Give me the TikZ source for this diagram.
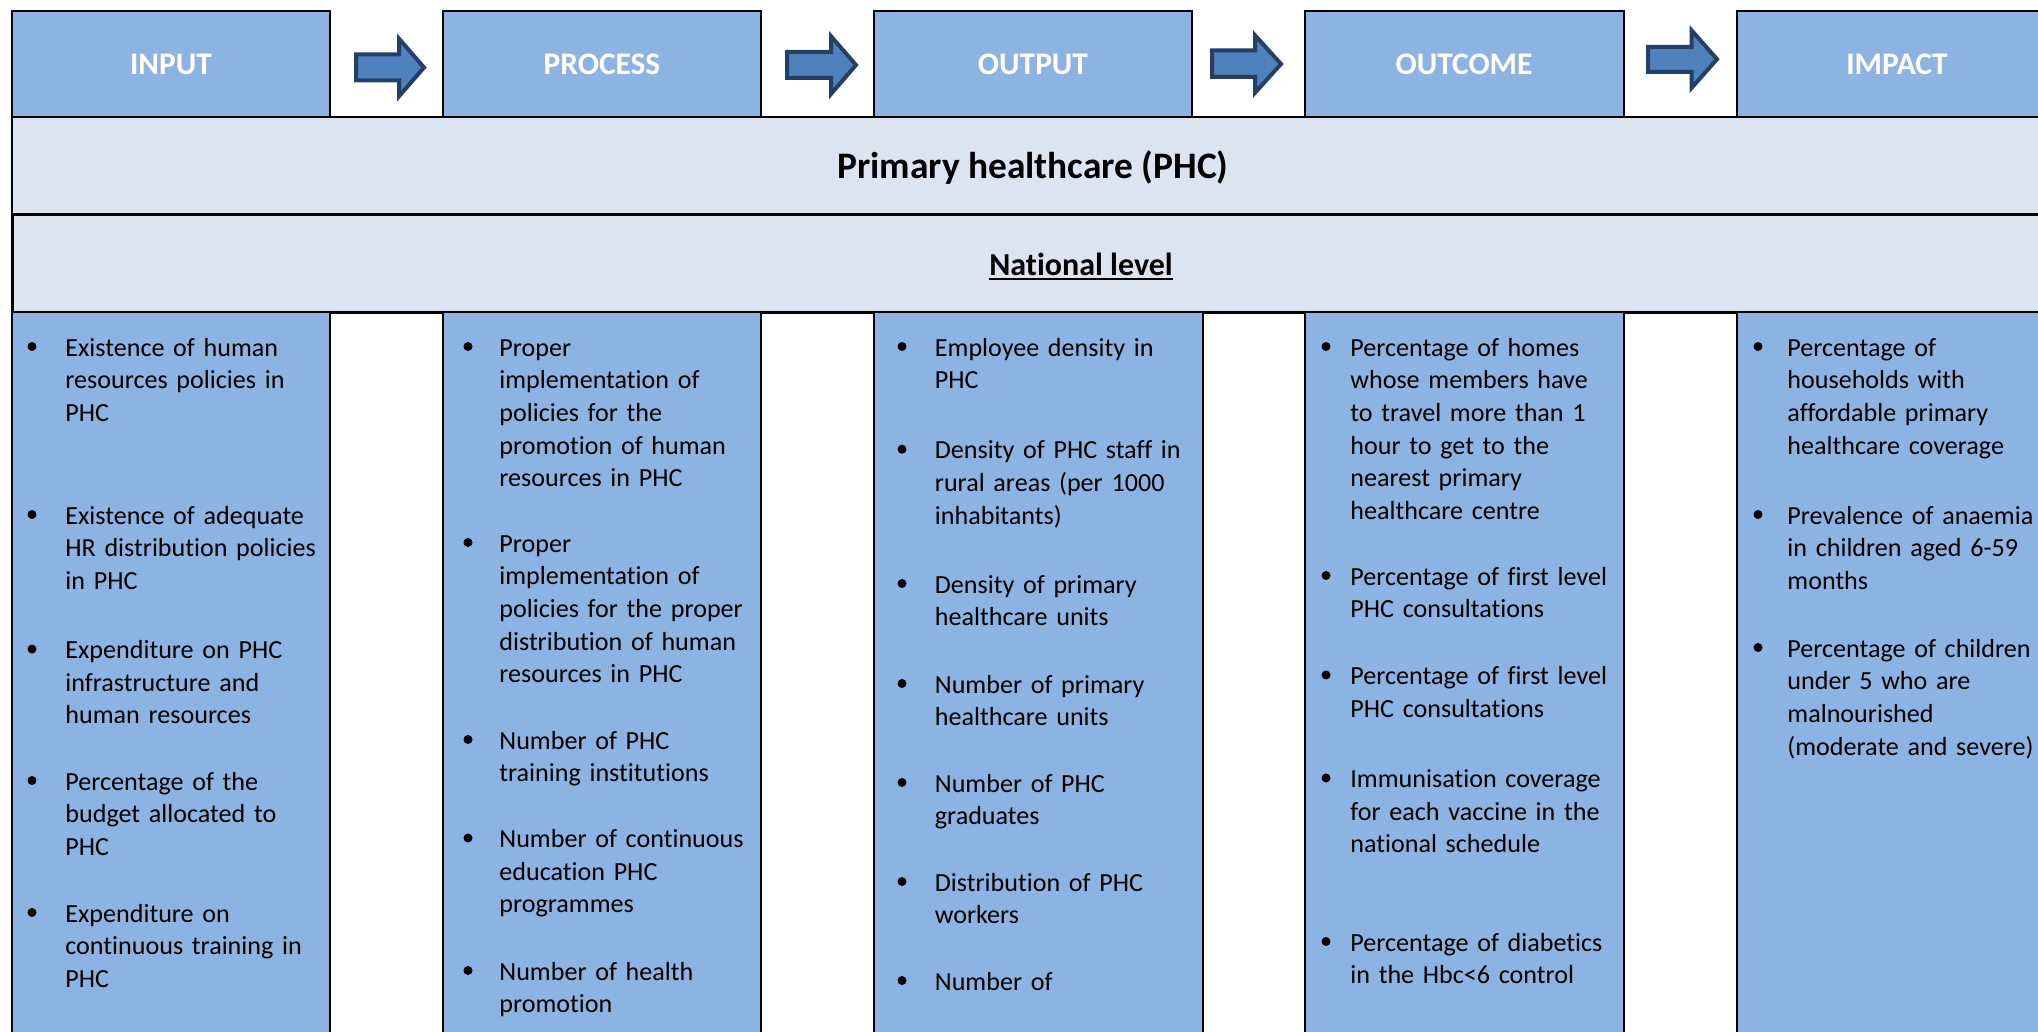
\documentclass[tikz,border=0pt]{standalone}
\usepackage{fontspec}
\setmainfont{Carlito}[Ligatures=NoCommon]
\usepackage{tikz}

\definecolor{colblue}{RGB}{141,179,226}
\definecolor{bandblue}{RGB}{219,229,241}
\definecolor{arrowblue}{RGB}{79,129,189}
\definecolor{arrowline}{RGB}{37,64,100}

\begin{document}
\begin{tikzpicture}[x=0.5pt,y=0.5pt,yscale=-1,xscale=1,
  colbox/.style={draw=black,line width=1pt,fill=colblue},
  band/.style={draw=black,line width=1pt,fill=bandblue},
  blockarrow/.style={draw=arrowline,line width=2pt,fill=arrowblue,line join=miter},
  headtext/.style={text=white,font=\fontsize{15.7}{19}\selectfont\bfseries,inner sep=0pt,anchor=base},
  itemtext/.style={font=\fontsize{13.05}{16.35}\selectfont,inner sep=0pt,anchor=base west,text width=170pt,align=left}]
%set diagram size 2038 x 1032
\useasboundingbox (0,0) rectangle (2038,1032);
\clip (0,0) rectangle (2038,1032);

%Shape: Rectangle [header boxes]
\draw [colbox] (12,10.7) rectangle (330,117) ;
\draw [colbox] (443,10.7) rectangle (761,117) ;
\draw [colbox] (874,10.7) rectangle (1192,117) ;
\draw [colbox] (1305,10.7) rectangle (1624,117) ;
\draw [colbox] (1737,10.7) rectangle (2060,117) ;
%Shape: Rectangle [title bands]
\draw [band] (12,117) rectangle (2060,215) ;
\draw [band, line width=1.5pt] (12,215) rectangle (2060,312) ;
%Shape: Rectangle [body columns]
\draw [colbox] (12,312) rectangle (330,1045) ;
\draw [colbox] (443,312) rectangle (761,1045) ;
\draw [colbox] (874,312) rectangle (1203,1045) ;
\draw [colbox] (1305,312) rectangle (1624,1045) ;
\draw [colbox] (1737,312) rectangle (2060,1045) ;

%Shape: Right Arrow
\draw [blockarrow] (356,54.5) -- (399,54.5) -- (399,38.7) -- (424,67.5) -- (399,96.3) -- (399,80.5) -- (356,80.5) -- cycle ;
%Shape: Right Arrow
\draw [blockarrow] (787,52) -- (831,52) -- (831,36.3) -- (856,65) -- (831,94) -- (831,78) -- (787,78) -- cycle ;
%Shape: Right Arrow
\draw [blockarrow] (1212,50.3) -- (1255,50.3) -- (1255,35.3) -- (1281,64) -- (1255,92.7) -- (1255,77) -- (1212,77) -- cycle ;
%Shape: Right Arrow
\draw [blockarrow] (1648,47) -- (1691.5,47) -- (1691.5,30.3) -- (1717,59.2) -- (1691.5,88) -- (1691.5,72) -- (1648,72) -- cycle ;

% Text Node
\node [headtext] (hinput) at (171,75) {INPUT};
% Text Node
\node [headtext] (hprocess) at (602,75) {PROCESS};
% Text Node
\node [headtext] (houtput) at (1033,75) {OUTPUT};
% Text Node
\node [headtext] (houtcome) at (1464,75) {OUTCOME};
% Text Node
\node [headtext] (himpact) at (1897,75) {IMPACT};

% Text Node
\node [inner sep=0pt, anchor=base, font=\fontsize{18.7}{22}\selectfont\bfseries] (phc) at (1033,179) {Primary healthcare (PHC)};
% Text Node
\node [inner sep=0pt, anchor=base, font=\fontsize{16}{19}\selectfont\bfseries] (natl) at (1081,275) {National level};
\draw [line width=1pt] ([yshift=2.2pt]natl.base west) -- ([yshift=2.2pt]natl.base east) ;

%Bullets
\foreach \bx/\by in {32/346.5, 32/514.5, 32/649, 32/780.5, 32/912.5,
                     468/346.5, 468/542.5, 468/739.5, 468/838, 468/970.5,
                     902/346.5, 902/449.2, 902/583.5, 902/683.5, 902/782.5, 902/881.5, 902/980.5,
                     1326/346.5, 1326/575.5, 1326/675, 1326/778, 1326/941.5,
                     1758/346.5, 1758/514.5, 1758/647.5}
  \fill (\bx,\by) circle [radius=4.5] ;

% Text Node [INPUT]
\node [itemtext] (in1) at (65,356) {Existence of human\\resources policies in\\PHC};
\node [itemtext] (in2) at (65,524) {Existence of adequate\\HR distribution policies\\in PHC};
\node [itemtext] (in3) at (65,658.5) {Expenditure on PHC\\infrastructure and\\human resources};
\node [itemtext] (in4) at (65,790) {Percentage of the\\budget allocated to\\PHC};
\node [itemtext] (in5) at (65,922) {Expenditure on\\continuous training in\\PHC};

% Text Node [PROCESS]
\node [itemtext] (pr1) at (499,356) {Proper\\implementation of\\policies for the\\promotion of human\\resources in PHC};
\node [itemtext] (pr2) at (499,552) {Proper\\implementation of\\policies for the proper\\distribution of human\\resources in PHC};
\node [itemtext] (pr3) at (499,749) {Number of PHC\\training institutions};
\node [itemtext] (pr4) at (499,847.5) {Number of continuous\\education PHC\\programmes};
\node [itemtext] (pr5) at (499,980) {Number of health\\promotion};

% Text Node [OUTPUT]
\node [itemtext] (op1) at (934.5,356) {Employee density in\\PHC};
\node [itemtext] (op2) at (934.5,458.7) {Density of PHC staff in\\rural areas (per 1000\\inhabitants)};
\node [itemtext] (op3) at (934.5,593) {Density of primary\\healthcare units};
\node [itemtext] (op4) at (934.5,693) {Number of primary\\healthcare units};
\node [itemtext] (op5) at (934.5,792) {Number of PHC\\graduates};
\node [itemtext] (op6) at (934.5,891) {Distribution of PHC\\workers};
\node [itemtext] (op7) at (934.5,990) {Number of};

% Text Node [OUTCOME]
\node [itemtext] (oc1) at (1350,356) {Percentage of homes\\whose members have\\to travel more than 1\\hour to get to the\\nearest primary\\healthcare centre};
\node [itemtext] (oc2) at (1350,585) {Percentage of first level\\PHC consultations};
\node [itemtext] (oc3) at (1350,684.5) {Percentage of first level\\PHC consultations};
\node [itemtext] (oc4) at (1350,787.5) {Immunisation coverage\\for each vaccine in the\\national schedule};
\node [itemtext] (oc5) at (1350,951) {Percentage of diabetics\\in the Hbc<6 control};

% Text Node [IMPACT]
\node [itemtext] (im1) at (1787,356) {Percentage of\\households with\\affordable primary\\healthcare coverage};
\node [itemtext] (im2) at (1787,524) {Prevalence of anaemia\\in children aged 6-59\\months};
\node [itemtext] (im3) at (1787,657) {Percentage of children\\under 5 who are\\malnourished\\(moderate and severe)};

\end{tikzpicture}
\end{document}
